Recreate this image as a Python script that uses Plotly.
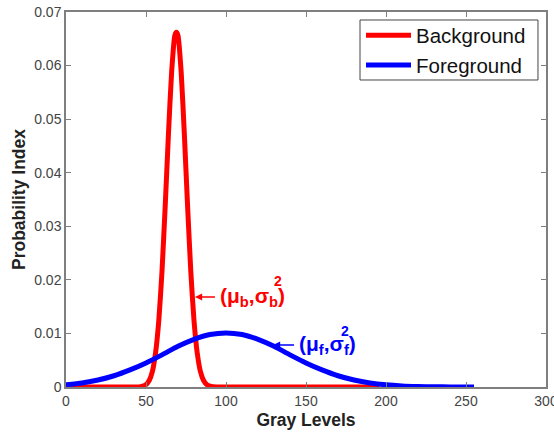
import plotly.graph_objects as go

# Background (red) curve
bg_x = [0, 30, 44, 46, 48, 50, 52, 54, 56, 58, 60, 62, 64, 66, 68, 69, 70, 72, 74, 76, 78, 80, 82, 84, 86, 88, 90, 92, 94, 120, 196]
bg_y = [0, 0, 0, 0.00002, 0.00015, 0.00044, 0.0012, 0.0029, 0.0064, 0.0124, 0.0216, 0.0337, 0.0470, 0.0587, 0.0656, 0.0662,
        0.0656, 0.0587, 0.0470, 0.0337, 0.0216, 0.0124, 0.0064, 0.0029, 0.0012, 0.00044, 0.00015, 0.00004, 0, 0, 0]

# Foreground (blue) curve
fg_x = [0, 10, 20, 30, 40, 50, 60, 70, 80, 90, 100, 110, 120, 130, 140, 150, 160, 170, 180, 190, 200, 210, 220, 230, 240, 255]
fg_y = [0.00041, 0.00075, 0.0013, 0.0021, 0.0032, 0.0045, 0.0060, 0.0076, 0.0089, 0.0098, 0.0101, 0.0098, 0.0089, 0.0076,
        0.0060, 0.0045, 0.0032, 0.0021, 0.0013, 0.00075, 0.00041, 0.00021, 0.0001, 0.00004, 0.00002, 0.00001]

x_ticks = [0, 50, 100, 150, 200, 250, 300]
y_ticks = [0, 0.01, 0.02, 0.03, 0.04, 0.05, 0.06, 0.07]
y_tick_labels = ["0", "0.01", "0.02", "0.03", "0.04", "0.05", "0.06", "0.07"]

FONT = "Liberation Sans, Arial, sans-serif"
RED = "#ff0000"
BLUE = "#0000ff"

fig = go.Figure()
fig.add_trace(go.Scatter(x=bg_x, y=bg_y, mode="lines", name="Background",
                         line=dict(color=RED, width=5, shape="spline", smoothing=0.6)))
fig.add_trace(go.Scatter(x=fg_x, y=fg_y, mode="lines", name="Foreground",
                         line=dict(color=BLUE, width=5, shape="spline", smoothing=0.6)))

axis_common = dict(showgrid=False, zeroline=False, showline=True, mirror="ticks",
                   linecolor="#7f7f7f", linewidth=1.5, ticks="inside", ticklen=5,
                   tickcolor="#7f7f7f", automargin=False, ticklabeloverflow="allow",
                   tickfont=dict(family=FONT, size=14, color="#444444"))

fig.update_xaxes(range=[0, 300], tickvals=x_ticks, **axis_common,
                 title=dict(text="<b>Gray Levels</b>", font=dict(family=FONT, size=17.5, color="#222222"), standoff=6))
fig.update_yaxes(range=[0, 0.07], tickvals=y_ticks, ticktext=y_tick_labels, **axis_common,
                 title=dict(text="<b>Probability Index</b>", font=dict(family=FONT, size=17.5, color="#222222"), standoff=4))

# Annotation arrows (thin, long)
fig.add_annotation(x=80.6, y=0.0168, ax=23, ay=0, axref="pixel", ayref="pixel", text=" ",
                   showarrow=True, arrowhead=2, arrowsize=1.1, arrowwidth=1.3, arrowcolor=RED,
                   standoff=0, startstandoff=0)
fig.add_annotation(x=129.4, y=0.00784, ax=24, ay=0, axref="pixel", ayref="pixel", text=" ",
                   showarrow=True, arrowhead=2, arrowsize=1.1, arrowwidth=1.3, arrowcolor=BLUE,
                   standoff=0, startstandoff=0)

# Annotation texts
fig.add_annotation(x=95.0, y=0.0168, xanchor="left", yanchor="middle", showarrow=False,
                   text="<b>(μ<sub>b</sub>,σ<sub>b</sub>)</b>",
                   font=dict(family=FONT, size=21, color=RED))
fig.add_annotation(x=132.5, y=0.0198, xanchor="center", yanchor="middle", showarrow=False,
                   text="<b>2</b>", font=dict(family=FONT, size=14, color=RED))
fig.add_annotation(x=144.4, y=0.00784, xanchor="left", yanchor="middle", showarrow=False,
                   text="<b>(μ<sub>f</sub>,σ<sub>f</sub>)</b>",
                   font=dict(family=FONT, size=21, color=BLUE))
fig.add_annotation(x=174.4, y=0.01045, xanchor="center", yanchor="middle", showarrow=False,
                   text="<b>2</b>", font=dict(family=FONT, size=14, color=BLUE))

# Legend frame
fig.add_shape(type="rect", xref="paper", yref="paper", x0=0.6125, x1=0.9833, y0=0.8187, y1=0.9787,
              line=dict(color="#444444", width=1), fillcolor="white", layer="above")

fig.update_layout(
    width=554, height=436,
    margin=dict(l=66, r=8, t=12, b=49),
    paper_bgcolor="white", plot_bgcolor="white",
    font=dict(family=FONT),
    legend=dict(x=0.6146, y=0.9907, xanchor="left", yanchor="top",
                bgcolor="rgba(0,0,0,0)", borderwidth=0,
                font=dict(family=FONT, size=20.5, color="#111111"),
                tracegroupgap=0, itemwidth=45),
    showlegend=True,
)

fig.write_html("out.html", config={"displayModeBar": False},
               post_script="document.body.style.margin='0';document.body.style.padding='0';")
